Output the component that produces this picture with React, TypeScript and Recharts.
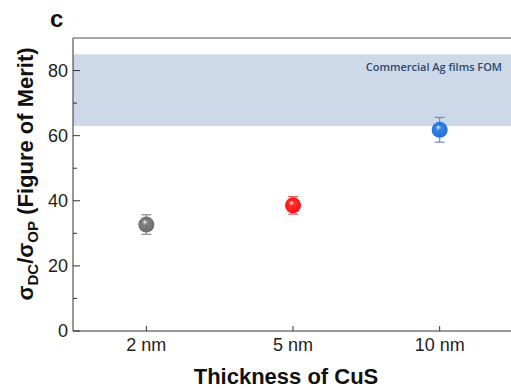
import React from "react";
import {
  ComposedChart,
  Scatter,
  ErrorBar,
  XAxis,
  YAxis,
  ReferenceArea,
  ReferenceLine,
  Label,
} from "recharts";

const thickness = ["2 nm", "5 nm", "10 nm"];
const fom = [32.7, 38.6, 61.8];
const fomError = [3, 2.7, 3.8];
const pointColors = ["#6b6b6b", "#ff0a0a", "#1c6fe0"];
const errorColors = ["#8a8a8a", "#e85a5a", "#6a8fbf"];
const yTicks = [0, 10, 20, 30, 40, 50, 60, 70, 80];
const agBand = [63, 85];

const series = thickness.map((name, i) => ({
  name,
  color: pointColors[i],
  errColor: errorColors[i],
  data: [{ x: i, y: fom[i], err: fomError[i] }],
}));

const FONT = "'Liberation Sans', Arial, sans-serif";

function Sphere(props: any) {
  const { cx, cy, fill, index } = props;
  if (cx == null || cy == null) return null;
  const id = `sph-${String(fill).replace("#", "")}-${index}`;
  return (
    <g>
      <defs>
        <radialGradient id={id} cx="50%" cy="50%" r="55%" fx="40%" fy="32%">
          <stop offset="0%" stopColor="#ffffff" stopOpacity={0.95} />
          <stop offset="30%" stopColor={fill} stopOpacity={0.85} />
          <stop offset="100%" stopColor={fill} />
        </radialGradient>
      </defs>
      <circle cx={cx} cy={cy} r={8} fill={`url(#${id})`} />
    </g>
  );
}

function YTick(props: any) {
  const { x, y, payload } = props;
  const major = payload.value % 20 === 0;
  return (
    <g>
      <line x1={x + 5} x2={x + 5 + (major ? 7 : 4)} y1={y} y2={y} stroke="#333" strokeWidth={1} />
      {major && (
        <text x={x} y={y} dy="0.36em" textAnchor="end" fontSize={18} fill="#222" fontFamily={FONT}>
          {payload.value}
        </text>
      )}
    </g>
  );
}

function YTitle() {
  return (
    <g>
      <text x={50} y={27} fontSize={24} fontWeight="bold" fill="#111" fontFamily={FONT}>
        c
      </text>
      <text
        transform="translate(33,174) rotate(-90)"
        textAnchor="middle"
        fontSize={22}
        fontWeight="bold"
        fill="#111"
        fontFamily={FONT}
      >
        σ
        <tspan fontSize={15} dy={5}>DC</tspan>
        <tspan dy={-5}>/σ</tspan>
        <tspan fontSize={15} dy={5}>OP</tspan>
        <tspan dy={-5}> (Figure of Merit)</tspan>
      </text>
    </g>
  );
}

function BandLabel(props: any) {
  const { viewBox } = props;
  const right = Math.min(viewBox.x + viewBox.width, 513);
  return (
    <text
      x={right - 11}
      y={viewBox.y + 16.5}
      textAnchor="end"
      fontSize={11}
      fontWeight={600}
      fill="#2e4a6e"
      fontFamily="'Open Sans', sans-serif"
    >
      Commercial Ag films FOM
    </text>
  );
}

export default function App() {
  return (
    <div style={{ position: "absolute", left: 0, top: 0, width: 511, height: 389, overflow: "hidden", background: "#fff" }}>
      <ComposedChart width={520} height={389} margin={{ top: 38, right: 7, left: 0, bottom: 28 }}>
        <XAxis
          type="number"
          dataKey="x"
          domain={[-0.5, 2.5]}
          ticks={[0, 1, 2]}
          tickFormatter={(i: number) => thickness[i]}
          height={30}
          tickSize={-5}
          tickMargin={12}
          axisLine={{ stroke: "#333" }}
          tickLine={{ stroke: "#333" }}
          tick={{ fontSize: 18, fill: "#222", fontFamily: FONT }}
        >
          <Label
            content={() => (
              <text x={286} y={384} textAnchor="middle" fontSize={22} fontWeight="bold" fill="#111" fontFamily={FONT}>
                Thickness of CuS
              </text>
            )}
          />
        </XAxis>
        <YAxis
          type="number"
          dataKey="y"
          domain={[0, 90]}
          ticks={yTicks}
          interval={0}
          width={73}
          tickSize={0}
          tickMargin={5}
          tickLine={false}
          axisLine={{ stroke: "#333" }}
          tick={<YTick />}
        >
          <Label content={() => <YTitle />} />
        </YAxis>
        <ReferenceArea y1={agBand[0]} y2={agBand[1]} fill="#cdd9e8" fillOpacity={1} stroke="none" ifOverflow="extendDomain">
          <Label content={(p: any) => <BandLabel {...p} />} />
        </ReferenceArea>
        <ReferenceLine y={90} stroke="#8a8a8a" strokeWidth={1.5} />
        {series.map((s) => (
          <Scatter
            key={s.name}
            name={s.name}
            data={s.data}
            fill={s.color}
            shape={<Sphere />}
            isAnimationActive={false}
          >
            <ErrorBar dataKey="err" direction="y" width={5} stroke={s.errColor} strokeWidth={1.2} />
          </Scatter>
        ))}
      </ComposedChart>
    </div>
  );
}
